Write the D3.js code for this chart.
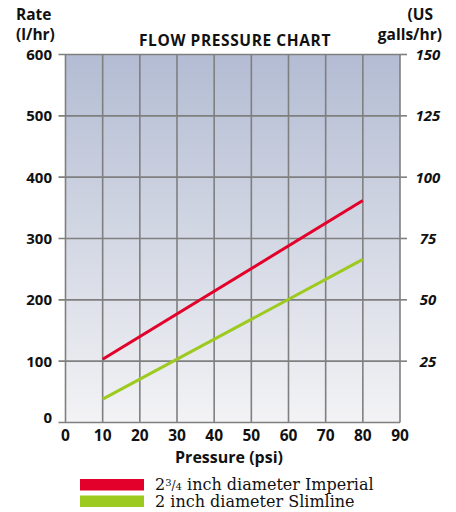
<html>
<head>
<script src="https://d3js.org/d3.v7.min.js"></script>
<style>
body { margin: 0; background: #fff; }
text { font-family: "Open Sans", "DejaVu Sans", sans-serif; font-weight: bold; fill: #111; }
</style>
</head>
<body>
<div id="chart"></div>
<script>
var pressure = [10, 80]
var imperial = [103, 362]
var slimline = [38, 266]
var xTicks = [0, 10, 20, 30, 40, 50, 60, 70, 80, 90]
var leftTicks = [0, 100, 200, 300, 400, 500, 600]
var rightTicks = [25, 50, 75, 100, 125, 150]
var seriesNames = [["2", "3", "/", "4", " inch diameter Imperial"], ["2 inch diameter Slimline"]]
var seriesColors = ["#e3002a", "#9dca1f"]

var width = 456, height = 512
var pLeft = 65.5, pRight = 400, pTop = 54.5, pBottom = 422.5

var svg = d3.select("#chart").append("svg")
	.attr("width", width)
	.attr("height", height)

var x = d3.scaleLinear().domain([0, 90]).range([pLeft, pRight])
var y = d3.scaleLinear().domain([0, 600]).range([pBottom, pTop])
var y2 = d3.scaleLinear().domain([0, 150]).range([pBottom, pTop])

var grad = svg.append("defs").append("linearGradient")
	.attr("id", "bg").attr("x1", 0).attr("y1", 0).attr("x2", 0).attr("y2", 1)
grad.append("stop").attr("offset", "0%").attr("stop-color", "#b3bcd3")
grad.append("stop").attr("offset", "100%").attr("stop-color", "#f3f3f5")

svg.append("rect")
	.attr("x", pLeft).attr("y", pTop)
	.attr("width", pRight - pLeft).attr("height", pBottom - pTop)
	.style("fill", "url(#bg)")

// grid
svg.selectAll(".vgrid").data(xTicks).enter().append("line")
	.attr("x1", function(d){ return x(d) }).attr("x2", function(d){ return x(d) })
	.attr("y1", pTop).attr("y2", pBottom)
	.style("stroke", "#7f7f7f").style("stroke-width", 1.6)

svg.selectAll(".hgrid").data(leftTicks).enter().append("line")
	.attr("x1", pLeft - 7).attr("x2", pRight)
	.attr("y1", function(d){ return y(d) }).attr("y2", function(d){ return y(d) })
	.style("stroke", "#7f7f7f").style("stroke-width", 1.6)

// right ticks
svg.selectAll(".rtick").data(rightTicks).enter().append("line")
	.attr("x1", pRight).attr("x2", pRight + 7)
	.attr("y1", function(d){ return y2(d) }).attr("y2", function(d){ return y2(d) })
	.style("stroke", "#7f7f7f").style("stroke-width", 1.6)

// lines
var line = d3.line().x(function(d){ return x(d[0]) }).y(function(d){ return y(d[1]) })
;[imperial, slimline].forEach(function(s, i){
	svg.append("path")
		.datum(pressure.map(function(p, j){ return [p, s[j]] }))
		.attr("d", line)
		.style("fill", "none")
		.style("stroke", seriesColors[i])
		.style("stroke-width", 3)
})

// tick labels
svg.selectAll(".ylab").data(leftTicks).enter().append("text")
	.attr("x", 52).attr("y", function(d){ return y(d) + (d == 0 ? 0 : 5.5) })
	.attr("text-anchor", "end").style("font-size", "15px")
	.text(function(d){ return d })

svg.selectAll(".y2lab").data(rightTicks).enter().append("text")
	.attr("x", 428).attr("y", function(d){ return y2(d) + 5.5 })
	.attr("text-anchor", "middle")
	.style("font-size", "15px").style("font-style", "italic")
	.text(function(d){ return d })

svg.selectAll(".xlab").data(xTicks).enter().append("text")
	.attr("x", function(d){ return x(d) }).attr("y", 441)
	.attr("text-anchor", "middle").style("font-size", "15.5px")
	.text(function(d){ return d })

// titles
svg.append("text").attr("x", 16).attr("y", 20).style("font-size", "15.5px").text("Rate")
svg.append("text").attr("x", 16).attr("y", 40).style("font-size", "15.5px").text("(l/hr)")
svg.append("text").attr("x", 235).attr("y", 46).attr("text-anchor", "middle")
	.style("font-size", "15.5px").style("letter-spacing", "0.6px").text("FLOW PRESSURE CHART")
svg.append("text").attr("x", 433).attr("y", 20).attr("text-anchor", "end").style("font-size", "15.5px").text("(US")
svg.append("text").attr("x", 442).attr("y", 40).attr("text-anchor", "end").style("font-size", "15.5px").text("galls/hr)")
svg.append("text").attr("x", 229).attr("y", 463).attr("text-anchor", "middle")
	.style("font-size", "16px").text("Pressure (psi)")

// legend
var leg = svg.selectAll(".leg").data(seriesNames).enter().append("g")
	.attr("transform", function(d, i){ return "translate(80," + (479 + i * 16.5) + ")" })
leg.append("rect").attr("width", 64).attr("height", 11.5)
	.style("fill", function(d, i){ return seriesColors[i] })
var lt = leg.append("text").attr("x", 75).attr("y", 11)
	.style("font-family", "'DejaVu Serif', 'Liberation Serif', serif")
	.style("font-weight", "normal").style("font-size", "16px")
lt.each(function(parts){
	var t = d3.select(this)
	if (parts.length == 1) { t.text(parts[0]); return }
	t.append("tspan").text(parts[0])
	t.append("tspan").attr("dy", -4).style("font-size", "10px").text(parts[1])
	t.append("tspan").attr("dy", 4).style("font-size", "12px").text(parts[2])
	t.append("tspan").style("font-size", "10px").text(parts[3])
	t.append("tspan").text(parts[4])
})
</script>
</body>
</html>
